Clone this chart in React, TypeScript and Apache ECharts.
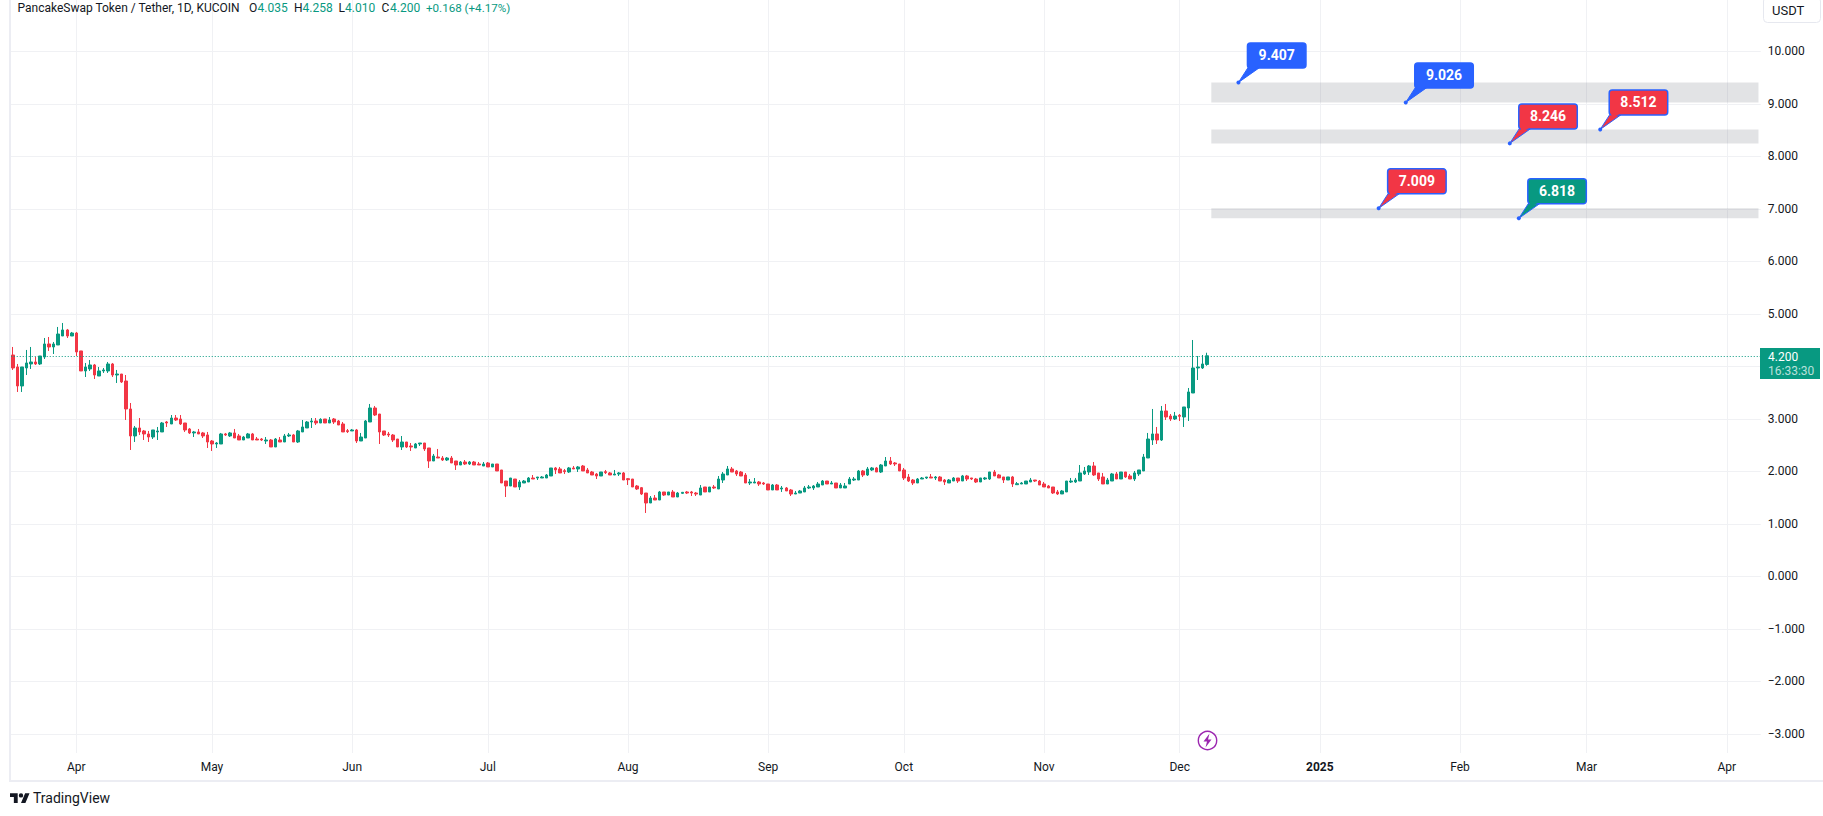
import React, { useEffect, useRef } from "react";
import * as echarts from "echarts";

// rows are [open, close, low, high]
const candlesMarMay = [
[4.215,3.968,3.93,4.368],[3.987,3.625,3.511,4.044],[3.625,3.987,3.511,3.987],[3.968,4.063,3.834,4.311],[4.044,4.082,3.949,4.368],[4.082,4.044,4.025,4.177],[4.044,4.196,4.025,4.196],[4.177,4.425,4.139,4.539],[4.425,4.368,4.292,4.558],[4.368,4.425,4.234,4.463],
[4.406,4.615,4.406,4.749],[4.577,4.692,4.577,4.825],[4.692,4.577,4.539,4.711],[4.577,4.634,4.577,4.654],[4.634,4.273,4.196,4.654],[4.292,3.911,3.911,4.292],[3.911,3.987,3.796,4.063],[3.949,4.025,3.911,4.12],[4.025,3.834,3.758,4.044],[3.815,3.911,3.815,3.987],
[3.911,3.93,3.873,3.968],[3.911,4.044,3.873,4.082],[4.044,3.834,3.796,4.063],[3.834,3.853,3.682,3.93],[3.853,3.701,3.682,3.853],[3.72,3.187,2.977,3.834],[3.187,2.673,2.406,3.301],[2.673,2.825,2.558,2.863],[2.825,2.749,2.692,3.015],[2.768,2.711,2.596,2.787],
[2.711,2.653,2.558,2.768],[2.653,2.787,2.615,2.787],[2.749,2.768,2.596,2.844],[2.749,2.92,2.749,2.939],[2.939,2.92,2.844,2.958],[2.901,3.015,2.901,3.072],[3.015,2.977,2.958,3.072],[2.996,2.901,2.882,3.072],[2.92,2.787,2.749,2.92],[2.806,2.73,2.711,2.825],
[2.73,2.749,2.653,2.768],[2.749,2.711,2.711,2.806],[2.73,2.673,2.634,2.749],[2.692,2.558,2.444,2.749],[2.577,2.52,2.387,2.596],
];
const candlesMayJul = [
[2.52,2.539,2.444,2.558],[2.52,2.711,2.52,2.73],[2.711,2.692,2.673,2.73],[2.673,2.73,2.653,2.749],[2.73,2.634,2.634,2.806],[2.673,2.596,2.596,2.711],[2.596,2.653,2.596,2.673],[2.634,2.711,2.634,2.73],[2.711,2.596,2.596,2.73],[2.615,2.596,2.596,2.653],
[2.615,2.596,2.577,2.634],[2.577,2.596,2.52,2.653],[2.596,2.463,2.463,2.615],[2.463,2.615,2.463,2.634],[2.596,2.558,2.558,2.653],[2.558,2.673,2.558,2.711],[2.673,2.692,2.653,2.73],[2.692,2.558,2.558,2.711],[2.558,2.768,2.539,2.787],[2.749,2.844,2.749,2.977],
[2.825,2.939,2.825,2.958],[2.939,2.958,2.825,3.015],[2.958,2.92,2.882,3.015],[2.92,2.99,2.92,3.01],[2.996,2.92,2.92,2.996],[2.92,2.977,2.92,3.034],[2.996,2.939,2.901,3.015],[2.958,2.882,2.882,2.977],[2.901,2.749,2.749,2.939],[2.774,2.755,2.729,2.806],
[2.768,2.787,2.768,2.806],[2.787,2.577,2.539,2.806],[2.577,2.653,2.577,2.73],[2.634,2.958,2.634,2.977],[2.939,3.206,2.939,3.282],[3.206,3.072,3.053,3.244],[3.091,2.749,2.52,3.091],[2.768,2.691,2.672,2.768],[2.71,2.691,2.653,2.749],[2.691,2.596,2.558,2.71],
[2.615,2.463,2.463,2.615],[2.463,2.558,2.406,2.672],[2.558,2.463,2.444,2.558],[2.482,2.463,2.387,2.539],[2.444,2.52,2.444,2.539],[2.52,2.539,2.482,2.539],[2.539,2.425,2.387,2.539],[2.444,2.196,2.063,2.444],[2.196,2.291,2.196,2.33],[2.272,2.253,2.253,2.425],
[2.253,2.215,2.196,2.291],[2.215,2.253,2.196,2.272],[2.253,2.158,2.158,2.291],[2.196,2.12,2.025,2.196],[2.12,2.177,2.12,2.196],[2.177,2.139,2.12,2.215],[2.139,2.177,2.12,2.196],[2.177,2.12,2.12,2.196],[2.139,2.12,2.12,2.177],[2.101,2.139,2.101,2.177],
];
const candlesJulAug = [
[2.158,2.082,2.082,2.177],[2.082,2.139,2.082,2.139],[2.139,2.006,2.006,2.139],[2.025,1.777,1.777,2.025],[1.815,1.72,1.51,1.815],[1.72,1.872,1.72,1.872],[1.853,1.701,1.701,1.853],[1.701,1.796,1.644,1.834],[1.777,1.815,1.777,1.834],[1.796,1.872,1.796,1.891],
[1.872,1.853,1.853,1.929],[1.872,1.891,1.834,1.891],[1.872,1.891,1.872,1.91],[1.872,1.929,1.872,1.948],[1.91,2.063,1.91,2.063],[2.063,2.025,1.948,2.082],[2.044,1.968,1.968,2.082],[2.012,1.993,1.948,2.044],[1.987,2.063,1.968,2.082],[2.063,2.044,2.044,2.101],
[2.044,2.082,1.987,2.101],[2.101,2.006,2.006,2.12],[2.025,1.968,1.968,2.063],[1.987,1.929,1.929,2.006],[1.948,1.91,1.853,1.968],[1.91,1.987,1.91,1.987],[1.993,1.974,1.948,2.025],[1.968,1.929,1.929,1.987],[1.929,1.948,1.929,2.025],[1.948,1.968,1.91,1.987],
[1.968,1.834,1.834,1.987],[1.859,1.84,1.739,1.872],[1.853,1.701,1.701,1.853],[1.72,1.663,1.644,1.739],[1.688,1.567,1.548,1.701],[1.586,1.396,1.206,1.586],[1.396,1.491,1.396,1.529],[1.491,1.453,1.453,1.548],[1.453,1.606,1.453,1.625],[1.606,1.548,1.529,1.606],
[1.548,1.606,1.548,1.606],[1.606,1.51,1.51,1.644],[1.51,1.586,1.51,1.606],[1.58,1.599,1.567,1.606],[1.606,1.586,1.567,1.625],[1.606,1.586,1.529,1.625],[1.586,1.567,1.529,1.606],[1.548,1.682,1.548,1.739],[1.701,1.606,1.606,1.701],[1.606,1.701,1.606,1.701],
];
const candlesAugOct = [
[1.701,1.682,1.663,1.739],[1.663,1.853,1.663,1.91],[1.834,1.948,1.777,1.986],[1.929,2.044,1.929,2.101],[2.044,1.986,1.986,2.082],[2.006,1.948,1.91,2.025],[1.986,1.91,1.91,2.006],[1.929,1.777,1.777,1.967],[1.777,1.796,1.739,1.853],[1.777,1.796,1.777,1.872],
[1.796,1.758,1.72,1.815],[1.777,1.758,1.739,1.796],[1.758,1.644,1.644,1.758],[1.644,1.739,1.644,1.758],[1.739,1.644,1.644,1.758],[1.663,1.682,1.606,1.72],[1.682,1.625,1.625,1.701],[1.644,1.567,1.529,1.663],[1.567,1.586,1.567,1.625],[1.586,1.625,1.586,1.644],
[1.606,1.682,1.606,1.72],[1.682,1.701,1.663,1.739],[1.682,1.72,1.644,1.739],[1.701,1.758,1.701,1.796],[1.739,1.815,1.739,1.834],[1.815,1.758,1.758,1.815],[1.758,1.777,1.758,1.815],[1.777,1.682,1.682,1.777],[1.682,1.739,1.682,1.777],[1.682,1.72,1.682,1.777],
[1.758,1.853,1.758,1.891],[1.834,1.853,1.815,1.891],[1.834,2.006,1.834,2.025],[2.006,1.929,1.891,2.025],[1.929,2.044,1.91,2.082],[2.025,2.063,2.006,2.082],[2.063,1.986,1.986,2.082],[1.986,2.12,1.967,2.139],[2.101,2.196,2.101,2.272],[2.196,2.139,2.12,2.272],
[2.158,2.139,2.101,2.177],[2.139,2.006,2.006,2.139],[2.025,1.872,1.834,2.063],[1.891,1.815,1.796,1.948],[1.834,1.777,1.739,1.853],[1.777,1.853,1.777,1.872],[1.853,1.872,1.853,1.891],[1.872,1.891,1.853,1.891],[1.891,1.872,1.872,1.948],[1.872,1.891,1.834,1.91],
];
const candlesOctDec = [
[1.891,1.815,1.815,1.91],[1.834,1.796,1.739,1.853],[1.777,1.834,1.777,1.853],[1.815,1.872,1.815,1.891],[1.872,1.815,1.777,1.872],[1.815,1.911,1.815,1.93],[1.911,1.853,1.815,1.93],[1.873,1.853,1.834,1.873],[1.853,1.796,1.777,1.873],[1.796,1.873,1.796,1.873],
[1.853,1.873,1.834,1.892],[1.853,1.987,1.834,1.987],[1.987,1.911,1.911,2.025],[1.93,1.873,1.873,1.949],[1.892,1.834,1.777,1.892],[1.834,1.892,1.834,1.892],[1.892,1.758,1.701,1.911],[1.745,1.764,1.745,1.796],[1.758,1.777,1.758,1.796],[1.758,1.815,1.758,1.815],
[1.796,1.834,1.796,1.873],[1.834,1.815,1.796,1.834],[1.815,1.739,1.739,1.834],[1.758,1.701,1.701,1.796],[1.72,1.682,1.682,1.739],[1.701,1.587,1.568,1.701],[1.606,1.568,1.549,1.644],[1.568,1.625,1.568,1.644],[1.606,1.815,1.606,1.815],[1.796,1.815,1.777,1.873],
[1.796,1.834,1.777,1.873],[1.815,1.968,1.815,2.12],[1.949,2.006,1.93,2.082],[1.987,2.101,1.93,2.12],[2.101,1.93,1.911,2.177],[1.968,1.853,1.815,1.968],[1.892,1.758,1.758,1.968],[1.758,1.834,1.758,1.873],[1.815,1.949,1.815,1.968],[1.949,1.853,1.853,1.987],
[1.853,1.987,1.853,1.987],[1.987,1.892,1.873,1.987],[1.911,1.853,1.853,1.949],[1.853,1.968,1.815,2.006],[1.949,2.025,1.911,2.025],[2.006,2.272,2.006,2.33],[2.253,2.615,2.253,2.73],[2.596,2.711,2.501,3.187],[2.711,2.596,2.52,2.844],[2.596,3.149,2.577,3.244],
[3.149,3.034,2.977,3.282],[3.053,2.996,2.958,3.091],[2.996,3.053,2.977,3.13],[3.066,3.047,2.958,3.091],[3.034,3.225,2.844,3.225],[3.206,3.511,2.958,3.587],[3.491,3.968,3.491,4.501],[3.968,3.987,3.739,4.196],[3.968,4.044,3.949,4.215],[4.035,4.2,4.01,4.258],
];
const candles = [...candlesMarMay, ...candlesMayJul, ...candlesJulAug, ...candlesAugOct, ...candlesOctDec];

const firstDay = Date.UTC(2024, 2, 18);
const slotCount = 387;
const dates = Array.from({ length: slotCount }, (_, i) => new Date(firstDay + i * 86400000).toISOString().slice(0, 10));
const monthTicks: Record<string, string> = {
  "2024-04-01": "Apr", "2024-05-01": "May", "2024-06-01": "Jun", "2024-07-01": "Jul", "2024-08-01": "Aug",
  "2024-09-01": "Sep", "2024-10-01": "Oct", "2024-11-01": "Nov", "2024-12-01": "Dec", "2025-01-01": "2025",
  "2025-02-01": "Feb", "2025-03-01": "Mar", "2025-04-01": "Apr",
};
const priceTicks = [10, 9, 8, 7, 6, 5, 4, 3, 2, 1, 0, -1, -2, -3];
const priceLabels = [10, 9, 8, 7, 6, 5, 3, 2, 1, 0, -1, -2, -3];
const lastPrice = 4.2;
const zones = [
  { from: "2024-12-08", to: "2025-04-08", low: 9.026, high: 9.407 },
  { from: "2024-12-08", to: "2025-04-08", low: 8.246, high: 8.512 },
  { from: "2024-12-08", to: "2025-04-08", low: 6.818, high: 7.009 },
];
const BLUE = "#2962ff", RED = "#f23645", GREEN = "#089981", INK = "#131722", GRID = "#f0f1f4", FRAME = "#ecedf3";
const callouts = [
  { date: "2024-12-14", price: 9.407, label: "9.407", fill: BLUE },
  { date: "2025-01-20", price: 9.026, label: "9.026", fill: BLUE },
  { date: "2025-02-12", price: 8.246, label: "8.246", fill: RED },
  { date: "2025-03-04", price: 8.512, label: "8.512", fill: RED },
  { date: "2025-01-14", price: 7.009, label: "7.009", fill: RED },
  { date: "2025-02-14", price: 6.818, label: "6.818", fill: GREEN },
];
const headerParts = [
  { x: 17.5, text: "PancakeSwap Token / Tether, 1D, KUCOIN", color: INK, size: 12 },
  { x: 249, text: "O", color: INK, size: 12 }, { x: 257.5, text: "4.035", color: GREEN, size: 12 },
  { x: 294, text: "H", color: INK, size: 12 }, { x: 302.5, text: "4.258", color: GREEN, size: 12 },
  { x: 338.5, text: "L", color: INK, size: 12 }, { x: 345, text: "4.010", color: GREEN, size: 12 },
  { x: 381.5, text: "C", color: INK, size: 12 }, { x: 390, text: "4.200", color: GREEN, size: 12 },
  { x: 426, text: "+0.168 (+4.17%)", color: GREEN, size: 11.6 },
];
const FONT = "Roboto, sans-serif";
const TV_LOGO = "M14 22H7V11H0V4h14v18zM28 22h-8l7.5-18h8L28 22zM16 8a4 4 0 1 0 8 0a4 4 0 1 0 -8 0z";

const isMonthStart = (i: number) => dates[i] in monthTicks;

export default function App() {
  const ref = useRef<HTMLDivElement>(null);
  useEffect(() => {
    document.body.style.margin = "0";
    echarts.graphic.registerShape("tvlogo", echarts.graphic.extendPath(TV_LOGO, {}));
    const chart = echarts.init(ref.current!, null, { renderer: "svg" });
    chart.setOption({
      animation: false,
      backgroundColor: "#ffffff",
      grid: { left: 10.74, top: 0, width: 1750, height: 753, containLabel: false },
      xAxis: {
        type: "category",
        data: dates,
        boundaryGap: true,
        axisLine: { show: false },
        axisTick: { show: false, alignWithLabel: true, interval: isMonthStart },
        splitLine: { show: true, alignWithLabel: true, interval: isMonthStart, lineStyle: { color: GRID, width: 1 } },
        axisLabel: {
          interval: isMonthStart,
          margin: 8,
          fontFamily: FONT,
          fontSize: 12,
          color: INK,
          hideOverlap: false,
          formatter: (d: string) => (monthTicks[d] === "2025" ? "{y|2025}" : monthTicks[d] || ""),
          rich: { y: { fontFamily: FONT, fontSize: 12, fontWeight: "bold", color: INK } },
        },
      },
      yAxis: {
        type: "value",
        position: "right",
        min: -3.366,
        max: 10.977,
        axisLine: { show: false },
        axisTick: { show: false, customValues: priceTicks },
        splitLine: { show: true, lineStyle: { color: GRID, width: 1 } },
        axisLabel: {
          customValues: priceLabels,
          margin: 7,
          fontFamily: FONT,
          fontSize: 12,
          color: INK,
          showMinLabel: true,
          showMaxLabel: true,
          formatter: (v: number) => (v < 0 ? "\u2212" + (-v).toFixed(3) : v.toFixed(3)),
        },
      },
      series: [
        {
          type: "candlestick",
          barWidth: 3,
          clip: false,
          data: candles,
          itemStyle: { color: GREEN, color0: RED, borderColor: GREEN, borderColor0: RED, borderWidth: 1 },
          markArea: {
            silent: true,
            itemStyle: { color: "rgba(110,115,125,0.2)" },
            data: zones.map((z) => [
              { xAxis: z.from, yAxis: z.high },
              { xAxis: z.to, yAxis: z.low },
            ]),
          },
          markLine: {
            silent: true,
            symbol: "none",
            label: { show: false },
            lineStyle: { color: GREEN, type: [1, 2], width: 1 },
            data: [{ yAxis: lastPrice }],
          },
        },
        {
          type: "custom",
          clip: false,
          z: 5,
          encode: { x: 0, y: 1 },
          data: callouts.map((c) => [c.date, c.price]),
          renderItem: (params: any, api: any) => {
            const c = callouts[params.dataIndex];
            const [px, py] = api.coord([api.value(0), api.value(1)]);
            const bl = px + 9, bt = py - 39.5, bw = 58.5, bh = 25;
            const stroke = BLUE;
            return {
              type: "group",
              children: [
                { type: "polygon", shape: { points: [[px, py], [bl + 1, bt + bh - 1], [bl + 13, bt + bh - 1]] }, style: { fill: c.fill, stroke, lineWidth: 1 } },
                { type: "rect", shape: { x: bl, y: bt, width: bw, height: bh, r: 3 }, style: { fill: c.fill, stroke, lineWidth: 1.5 } },
                { type: "polygon", shape: { points: [[bl + 1.5, bt + bh - 2], [bl + 12, bt + bh - 2], [bl + 3, bt + bh + 3]] }, style: { fill: c.fill } },
                { type: "circle", shape: { cx: px, cy: py, r: 2 }, style: { fill: BLUE } },
                { type: "text", style: { x: bl + bw / 2, y: bt + bh / 2, text: c.label, fill: "#ffffff", font: `bold 14px ${FONT}`, align: "center", verticalAlign: "middle" } },
              ],
            };
          },
        },
      ],
      graphic: [
        { type: "rect", z: 20, shape: { x: 9, y: 0, width: 2, height: 782 }, style: { fill: FRAME } },
        { type: "rect", z: 20, shape: { x: 9, y: 780, width: 1814, height: 2 }, style: { fill: FRAME } },
        ...headerParts.map((p) => ({
          type: "text", z: 21, x: p.x, y: 8,
          style: { text: p.text, fill: p.color, font: `${p.size}px ${FONT}`, verticalAlign: "middle" },
        })),
        { type: "rect", z: 21, shape: { x: 1763.5, y: -3, width: 57, height: 25.5, r: 4 }, style: { fill: "#ffffff", stroke: "#e6e8ef", lineWidth: 1 } },
        { type: "text", z: 22, x: 1772, y: 10, style: { text: "USDT", fill: INK, font: `13px ${FONT}`, verticalAlign: "middle" } },
        { type: "rect", z: 21, shape: { x: 1760, y: 348, width: 60, height: 31 }, style: { fill: GREEN } },
        { type: "text", z: 22, x: 1768, y: 356.5, style: { text: "4.200", fill: "#ffffff", font: `12px ${FONT}`, verticalAlign: "middle" } },
        { type: "text", z: 22, x: 1768, y: 370.5, style: { text: "16:33:30", fill: "rgba(255,255,255,0.72)", font: `12px ${FONT}`, verticalAlign: "middle" } },
        { type: "circle", z: 21, shape: { cx: 1207.5, cy: 740.5, r: 9.2 }, style: { fill: "#ffffff", stroke: "#9c27b0", lineWidth: 1.4 } },
        { type: "polygon", z: 22, shape: { points: [[1209.5, 733.5], [1203.5, 741.5], [1207, 741.5], [1205.5, 747.5], [1211.5, 739.5], [1208, 739.5]] }, style: { fill: "#9c27b0" } },
        { type: "tvlogo", z: 21, x: 10, y: 791, scaleX: 0.55, scaleY: 0.55, style: { fill: INK } },
        { type: "text", z: 21, x: 33, y: 798, style: { text: "TradingView", fill: INK, font: `14px ${FONT}`, verticalAlign: "middle" } },
      ],
    });
    return () => chart.dispose();
  }, []);
  return <div ref={ref} style={{ position: "absolute", left: 0, top: 0, width: 1823, height: 816 }} />;
}
